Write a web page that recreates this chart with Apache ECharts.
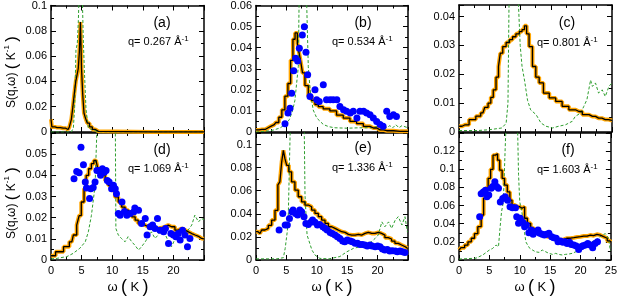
<!DOCTYPE html>
<html><head><meta charset="utf-8">
<script src="https://cdn.jsdelivr.net/npm/echarts@6/dist/echarts.min.js"></script>
<style>html,body{margin:0;padding:0;background:#fff}#c{width:620px;height:297px}</style>
</head><body><div id="c"></div>
<script>
// ---------- data ----------
const xTicks = [0, 5, 10, 15, 20, 25];
const qValues = ['0.267', '0.534', '0.801', '1.069', '1.336', '1.603'];
const panelLabels = ['(a)', '(b)', '(c)', '(d)', '(e)', '(f)'];

const blackA = [[0,0.01],[0.3,0.004],[1,0.0035],[2,0.003],[2.8,0.002],[3.2,0.004],[3.45,0.01],[3.7,0.02],[3.95,0.031],[4.15,0.04],[4.35,0.045],[4.55,0.05],[4.72,0.063],[4.9,0.087],[5.08,0.05],[5.28,0.03],[5.5,0.015],[5.75,0.011],[6.1,0.007],[6.5,0.004],[7,0.002],[7.5,0.0005],[8,0],[25,0]];
const greenA = [[0,0],[3.3,0],[3.65,0.003],[3.87,0.02],[3.98,0.044],[4.08,0.065],[4.3,0.07],[4.47,0.088],[4.65,0.12],[4.9,0.2],[5.05,0.12],[5.28,0.073],[5.45,0.049],[5.72,0.018],[6.1,0.003],[7.5,0.0005],[8,0],[25,0]];

const blackB = [[0,0.001],[1,0.0012],[2,0.002],[2.5,0.0028],[3,0.0035],[3.5,0.0045],[4,0.007],[4.5,0.0105],[5,0.017],[5.5,0.023],[5.9,0.034],[6.25,0.044],[6.6,0.047],[7,0.042],[7.25,0.037],[7.5,0.033],[7.8,0.028],[8.3,0.022],[8.9,0.017],[9.4,0.015],[10,0.013],[10.5,0.012],[11.6,0.011],[12.7,0.01],[13.8,0.008],[14.9,0.0066],[16,0.005],[17.1,0.004],[18.2,0.0027],[19.3,0.0019],[20.4,0.001],[21.5,0.0006],[23.7,0.0003],[25,0.0003]];
const greenB = [[0,0],[2,0.0005],[3,0.001],[4,0.002],[4.5,0.003],[5,0.004],[5.5,0.006],[6,0.01],[6.4,0.015],[6.96,0.031],[7.1,0.065],[7.6,0.12],[8.1,0.1],[8.3,0.065],[8.6,0.031],[8.9,0.02],[9.4,0.0105],[10,0.0066],[11.1,0.0035],[12,0.0025],[13,0.002],[15,0.0018],[17,0.002],[19,0.002],[20,0.0025],[21,0.003],[21.5,0.002],[22,0.003],[22.5,0.002],[23,0.0035],[23.5,0.002],[24,0.003],[25,0.002]];
const blueB = [[4.77,0.0039],[5.26,0.009],[5.59,0.0113],[5.87,0.0184],[6.2,0.0291],[6.52,0.035],[6.85,0.0337],[7.13,0.0397],[7.62,0.046],[7.95,0.0499],[8.22,0.0378],[8.5,0.0271],[8.88,0.0168],[9.7,0.02],[9.98,0.0153],[10.4,0.0145],[11.07,0.0224],[11.6,0.0153],[12.2,0.0153],[12.7,0.0153],[13.3,0.0153],[13.8,0.0121],[14.4,0.0105],[14.9,0.0098],[15.5,0.009],[16,0.0098],[16.6,0.0066],[17.1,0.0098],[17.7,0.0098],[18.2,0.009],[18.75,0.0082],[19.3,0.0066],[19.85,0.005],[20.4,0.0035],[20.9,0.0027],[21.5,0.0098],[22,0.0074],[22.6,0.0082],[23.1,0.0074]];

const blackC = [[0,0.002],[1,0.0025],[2.3,0.0043],[3.2,0.0055],[3.9,0.0066],[4.5,0.0085],[5,0.01],[5.4,0.012],[5.8,0.0146],[6.3,0.019],[6.6,0.0227],[6.9,0.0273],[7.4,0.0296],[8,0.031],[8.5,0.032],[9,0.033],[9.6,0.034],[10.1,0.0348],[10.5,0.0355],[10.9,0.0368],[11.2,0.034],[11.7,0.0296],[12.3,0.0227],[12.8,0.019],[13.4,0.017],[14.2,0.0135],[15.3,0.0118],[16.3,0.0106],[17.4,0.0089],[18.5,0.0077],[19.6,0.0071],[20.7,0.006],[21.8,0.0054],[22.8,0.0048],[23.9,0.0043],[25,0.004]];
const greenC = [[0,0.0005],[3,0.0005],[5,0.0008],[7,0.0014],[7.7,0.003],[8,0.01],[8.2,0.05],[9,0.1],[9.6,0.05],[10,0.03],[10.3,0.0227],[10.7,0.018],[11.2,0.011],[11.7,0.0077],[12.6,0.006],[13.4,0.0031],[14.2,0.002],[15.3,0.0014],[16.3,0.002],[17.4,0.0025],[18.5,0.0037],[19,0.0054],[19.9,0.0066],[20.4,0.0089],[20.9,0.0112],[21.5,0.018],[21.8,0.0158],[22.3,0.017],[22.8,0.0135],[23.4,0.0146],[23.9,0.0123],[24.5,0.0158],[25,0.017]];

const blackD = [[0,0.002],[1.5,0.0039],[2.6,0.0063],[3.4,0.0086],[3.9,0.0118],[4.5,0.0165],[4.7,0.021],[5.2,0.0274],[5.6,0.0337],[5.9,0.04],[6.4,0.0431],[6.8,0.0455],[7.2,0.047],[7.5,0.0478],[7.7,0.0439],[8,0.0408],[8.6,0.04],[9.1,0.0376],[9.6,0.0353],[10.2,0.033],[10.7,0.0298],[11.3,0.0274],[11.8,0.025],[12.4,0.0235],[12.9,0.022],[13.5,0.0204],[14,0.0188],[14.5,0.0172],[15.1,0.0165],[15.6,0.0157],[16.2,0.0152],[16.7,0.0149],[17.3,0.0149],[17.8,0.0152],[18.4,0.0157],[18.9,0.0165],[19.4,0.0157],[20,0.0157],[20.5,0.0141],[21.1,0.0149],[21.6,0.0141],[22.2,0.0133],[22.7,0.0125],[23.3,0.0118],[23.8,0.011],[24.6,0.0102],[25,0.01]];
const greenD = [[0,0.0005],[1,0.0008],[2.6,0.0016],[3.6,0.0031],[4.7,0.0055],[5.6,0.0086],[6.1,0.0133],[6.6,0.021],[7.2,0.035],[7.6,0.07],[9,0.12],[10.5,0.07],[10.6,0.0149],[11,0.0118],[11.5,0.0102],[12.1,0.0086],[12.6,0.011],[13.2,0.0086],[13.7,0.007],[14.3,0.0047],[14.8,0.0063],[15.4,0.0086],[15.9,0.011],[16.4,0.0133],[17,0.0102],[17.5,0.0118],[18.1,0.0149],[18.6,0.0125],[19.2,0.0086],[19.7,0.0063],[20.3,0.0102],[20.8,0.0118],[21.4,0.0133],[21.9,0.0118],[22.4,0.0141],[23,0.0165],[23.5,0.0212],[24.1,0.018],[24.6,0.0196],[25,0.019]];
const blueD = [[3.76,0.0384],[4.2,0.0418],[4.6,0.0412],[4.9,0.0533],[5.3,0.045],[5.6,0.0368],[5.8,0.034],[6.3,0.029],[6.5,0.0337],[6.9,0.0342],[7.2,0.0368],[7.5,0.0423],[7.8,0.0423],[8.1,0.04],[8.4,0.0431],[8.7,0.0415],[9,0.0423],[9.2,0.0376],[9.5,0.0368],[9.9,0.0337],[10.2,0.0353],[10.5,0.0337],[10.7,0.0313],[11,0.022],[11.3,0.0212],[11.6,0.0274],[12,0.0229],[12.4,0.0212],[12.9,0.022],[13.5,0.0227],[13.7,0.0246],[14.3,0.0235],[14.8,0.0172],[15.4,0.0196],[15.7,0.0118],[16.2,0.0157],[16.6,0.0165],[17,0.0149],[17.4,0.0196],[17.8,0.0141],[18.4,0.0133],[18.7,0.0149],[19.2,0.0078],[19.6,0.0125],[20,0.0118],[20.4,0.011],[20.8,0.0125],[21.1,0.0094],[21.5,0.0141],[21.9,0.0118],[22.3,0.0063],[22.7,0.0102]];

const blackE = [[0,0.0245],[0.66,0.023],[1.2,0.026],[1.75,0.0274],[2.3,0.03],[2.85,0.0346],[3.4,0.043],[3.8,0.065],[4.05,0.0677],[4.4,0.085],[4.6,0.095],[4.9,0.088],[5.2,0.082],[5.6,0.0764],[6.1,0.0677],[6.7,0.0605],[7.2,0.0548],[7.8,0.0504],[8.3,0.0476],[8.9,0.0461],[9.4,0.0432],[10,0.0403],[10.5,0.0375],[11.1,0.0346],[11.6,0.0317],[12.2,0.0288],[12.7,0.0274],[13.3,0.0259],[13.8,0.0245],[14.4,0.0239],[14.9,0.0222],[15.5,0.0216],[16,0.0216],[16.6,0.0222],[17.1,0.0216],[17.65,0.023],[18.2,0.0239],[18.75,0.023],[19.3,0.023],[19.85,0.0239],[20.4,0.023],[20.9,0.0216],[21.5,0.0193],[22,0.0182],[22.6,0.0164],[23.1,0.0144],[23.7,0.013],[24.2,0.0115],[24.9,0.0101],[25,0.01]];
const greenE = [[0,0.001],[3.4,0.001],[4.5,0.002],[4.8,0.01],[5.15,0.025],[5.3,0.036],[5.7,0.13],[7,0.15],[7.9,0.13],[8.06,0.056],[8.4,0.0216],[9.2,0.0086],[9.7,0.0043],[10.5,0.0014],[12,0.001],[13.8,0.003],[14.9,0.007],[16,0.01],[17.1,0.0115],[18.2,0.013],[19,0.016],[19.6,0.0187],[20.1,0.0216],[20.7,0.033],[21.2,0.0288],[21.8,0.033],[22.3,0.0274],[22.9,0.0346],[23.4,0.0375],[24,0.0303],[24.5,0.0375],[24.9,0.0245],[25,0.024]];
const blueE = [[3.8,0.026],[4.4,0.0403],[4.8,0.0303],[5.15,0.0303],[5.5,0.036],[5.9,0.0418],[6.1,0.0432],[6.5,0.0403],[6.85,0.0389],[7.2,0.0432],[7.5,0.0418],[7.9,0.0375],[8.2,0.0317],[8.6,0.0308],[9,0.0326],[9.3,0.0346],[9.7,0.0326],[10.1,0.0303],[10.5,0.0308],[11,0.0288],[11.35,0.0274],[11.7,0.026],[12.2,0.0239],[12.55,0.023],[13,0.0216],[13.4,0.0202],[13.8,0.0187],[14.25,0.0164],[14.6,0.0159],[15,0.0173],[15.5,0.0164],[15.85,0.0159],[16.3,0.0144],[16.7,0.0144],[17.1,0.0135],[17.5,0.0135],[17.9,0.013],[18.3,0.0121],[18.75,0.013],[19.1,0.0121],[19.6,0.0115],[20,0.0121],[20.4,0.0115],[20.8,0.0095],[21.2,0.0086],[21.6,0.0092],[22,0.0078],[22.4,0.0081],[22.9,0.0078],[23.25,0.0072],[23.7,0.0078],[24.1,0.0072],[24.5,0.0066]];

const blackF = [[0,0.011],[0.65,0.0136],[1.2,0.0165],[1.75,0.02],[2.3,0.024],[2.8,0.029],[3.4,0.0367],[3.9,0.0495],[4.2,0.068],[4.6,0.079],[5,0.09],[5.4,0.1],[5.8,0.1156],[6.2,0.117],[6.5,0.11],[6.9,0.099],[7.3,0.09],[7.7,0.0826],[8.2,0.075],[8.55,0.066],[8.9,0.0606],[9.4,0.0587],[9.8,0.0587],[10.2,0.057],[10.6,0.0587],[11,0.046],[11.5,0.0404],[12.1,0.035],[12.6,0.031],[13.2,0.0294],[13.7,0.0275],[14.3,0.0257],[14.8,0.0257],[15.4,0.024],[15.9,0.023],[16.4,0.022],[17,0.0227],[17.5,0.024],[18.1,0.024],[18.6,0.0246],[19.2,0.0253],[19.7,0.0257],[20.3,0.0264],[20.8,0.0264],[21.35,0.0275],[21.9,0.0268],[22.4,0.0283],[23,0.0275],[23.5,0.0257],[24.1,0.024],[24.7,0.021],[25,0.02]];
const greenF = [[0,0.001],[2.8,0.002],[3.9,0.0055],[4.6,0.009],[5,0.011],[5.55,0.0128],[6.1,0.0165],[6.5,0.0147],[6.75,0.035],[7,0.053],[7.3,0.064],[7.6,0.123],[7.8,0.16],[9.6,0.16],[9.8,0.094],[10,0.064],[10.35,0.053],[10.7,0.035],[11,0.02],[11.3,0.0165],[11.65,0.0128],[12.1,0.011],[12.6,0.009],[13.2,0.0084],[13.7,0.011],[14.3,0.009],[14.8,0.0073],[15.4,0.0062],[15.9,0.0073],[16.4,0.0062],[17,0.0055],[17.5,0.0062],[18.1,0.0066],[18.6,0.0073],[19.2,0.009],[19.7,0.011],[20.3,0.0128],[20.8,0.0147],[21.35,0.0165],[21.9,0.02],[22.4,0.022],[23,0.024],[23.5,0.0275],[24.1,0.029],[24.6,0.024],[24.9,0.011],[25,0.01]];
const blueF = [[3.4,0.0477],[3.65,0.073],[4,0.075],[4.35,0.077],[4.6,0.0697],[4.9,0.0716],[5.3,0.079],[5.55,0.081],[5.9,0.0862],[6.2,0.081],[6.5,0.079],[6.8,0.064],[7.2,0.0679],[7.6,0.0697],[8,0.066],[8.4,0.0587],[8.8,0.0576],[9.3,0.0576],[9.5,0.0477],[9.8,0.0404],[10.1,0.046],[10.5,0.0415],[10.8,0.0367],[11.1,0.0385],[11.5,0.0301],[11.9,0.033],[12.2,0.0283],[12.6,0.031],[13,0.033],[13.3,0.0294],[13.7,0.0283],[14.05,0.0275],[14.4,0.0283],[14.8,0.0294],[15.25,0.0257],[15.6,0.0246],[16,0.024],[16.3,0.0202],[16.7,0.0209],[17.1,0.0195],[17.4,0.0202],[17.8,0.0183],[18.2,0.0195],[18.5,0.0172],[18.9,0.0165],[19.3,0.0154],[19.7,0.0117],[20.1,0.0147],[20.4,0.0158],[20.8,0.0165],[21.2,0.0183],[21.6,0.0165],[22,0.0136],[22.4,0.0183],[22.8,0.0202]];

// y-axis ranges per panel
const yMaxes = [0.1, 0.06, 0.044, 0.06, 0.11, 0.14];
const yIntervals = [0.02, 0.01, 0.01, 0.01, 0.02, 0.02];

// ---------- layout ----------
const grids = [
  {left:51, top:5, width:153, height:127},
  {left:256, top:5, width:152, height:127},
  {left:459, top:5, width:153, height:127},
  {left:51, top:133, width:153, height:127},
  {left:256, top:133, width:152, height:127},
  {left:459, top:133, width:153, height:127}
];
const blacks = [blackA, blackB, blackC, blackD, blackE, blackF];
const greens = [greenA, greenB, greenC, greenD, greenE, greenF];
const blues = [null, blueB, null, blueD, blueE, blueF];
const labelPos = [[162,23],[363,23],[567,23],[162,150],[363,148],[568,150]];
const qPos = [[128,42],[332,42],[537,43],[128,169],[332,168],[537,170]];

const FONT = 'Liberation Sans, Arial, Helvetica, sans-serif';
const axisLine = {show:true, onZero:false, lineStyle:{color:'#000', width:1.5}};
const tick = {show:true, inside:true, length:5, lineStyle:{color:'#000', width:1}};
const minor = {show:true, splitNumber:2, length:3, lineStyle:{color:'#000', width:1}};

const xAxis = [], yAxis = [], series = [], graphic = [];
grids.forEach((g, i) => {
  const bottomRow = i >= 3;
  const common = {gridIndex:i, type:'value', min:0, max:25, interval:5, axisLine, axisTick:tick, minorTick:minor, splitLine:{show:false}, minorSplitLine:{show:false}};
  xAxis.push(Object.assign({}, common, {position:'bottom',
    axisLabel:{show:bottomRow, color:'#000', fontFamily:FONT, fontSize:11, margin:5, showMaxLabel: i === 5, showMinLabel:true}}));
  xAxis.push(Object.assign({}, common, {position:'top', axisLabel:{show:false}}));
  const yc = {gridIndex:i, type:'value', min:0, max:yMaxes[i], interval:yIntervals[i], axisLine, axisTick:tick, minorTick:minor, splitLine:{show:false}, minorSplitLine:{show:false}};
  const showMax = (i === 0 || i === 1);
  yAxis.push(Object.assign({}, yc, {position:'left',
    axisLabel:{show:true, color:'#000', fontFamily:FONT, fontSize:11, margin:4, showMaxLabel: showMax,
      formatter: v => String(Math.round(v*1000)/1000)}}));
  yAxis.push(Object.assign({}, yc, {position:'right', axisLabel:{show:false}}));

  const xi = 2*i, yi = 2*i;
  series.push({type:'line', xAxisIndex:xi, yAxisIndex:yi, data:blacks[i], step:'middle', showSymbol:false, clip:true,
    lineStyle:{color:'#ffa500', width:4}, z:1, silent:true, animation:false});
  series.push({type:'line', xAxisIndex:xi, yAxisIndex:yi, data:greens[i], showSymbol:false, clip:true,
    lineStyle:{color:'#2e9e2e', width:1, type:[3,2]}, z:2, silent:true, animation:false});
  series.push({type:'line', xAxisIndex:xi, yAxisIndex:yi, data:blacks[i], step:'middle', showSymbol:false, clip:true,
    lineStyle:{color:'#000', width:1.3}, z:3, silent:true, animation:false});
  if (blues[i]) series.push({type:'scatter', xAxisIndex:xi, yAxisIndex:yi, data:blues[i], symbolSize:7, clip:true,
    itemStyle:{color:'#0000ff', opacity:1}, z:4, silent:true, animation:false});

  graphic.push({type:'text', x:labelPos[i][0], y:labelPos[i][1], z:10,
    style:{text:panelLabels[i], font:'14px ' + FONT, fill:'#000', textAlign:'center', textVerticalAlign:'middle'}});
  graphic.push({type:'text', x:qPos[i][0], y:qPos[i][1], z:10,
    style:{text:'{n|q= ' + qValues[i] + ' Å}{s|-1}', textAlign:'left', textVerticalAlign:'middle',
      rich:{n:{fontSize:11, fontFamily:FONT, fill:'#000', lineHeight:14}, s:{fontSize:8, fontFamily:FONT, fill:'#000', verticalAlign:'top', lineHeight:14}}}});
});

const yTitle = {text:'{a|S(q,ω)} {b|(} {a|K}{s|-1} {b|)}', textAlign:'center', textVerticalAlign:'middle',
  rich:{a:{fontSize:12, fontFamily:FONT, fill:'#000', lineHeight:18}, b:{fontSize:17, fontFamily:FONT, fill:'#000', lineHeight:18}, s:{fontSize:8, fontFamily:FONT, fill:'#000', verticalAlign:'top', lineHeight:18}}};
graphic.push({type:'text', x:12, y:72, rotation:Math.PI/2, style:Object.assign({}, yTitle)});
graphic.push({type:'text', x:12, y:203, rotation:Math.PI/2, style:Object.assign({}, yTitle)});
const xTitle = {text:'{a|ω} {b|(} {k|K} {b|)}', textAlign:'center', textVerticalAlign:'middle',
  rich:{a:{fontSize:13, fontFamily:FONT, fill:'#000'}, k:{fontSize:13, fontFamily:FONT, fill:'#000'}, b:{fontSize:18, fontFamily:FONT, fill:'#000'}}};
[128, 332, 535].forEach(x => graphic.push({type:'text', x:x, y:287, style:Object.assign({}, xTitle)}));

const chart = echarts.init(document.getElementById('c'), null, {renderer:'canvas'});
chart.setOption({animation:false, grid:grids, xAxis, yAxis, series, graphic});
</script></body></html>
